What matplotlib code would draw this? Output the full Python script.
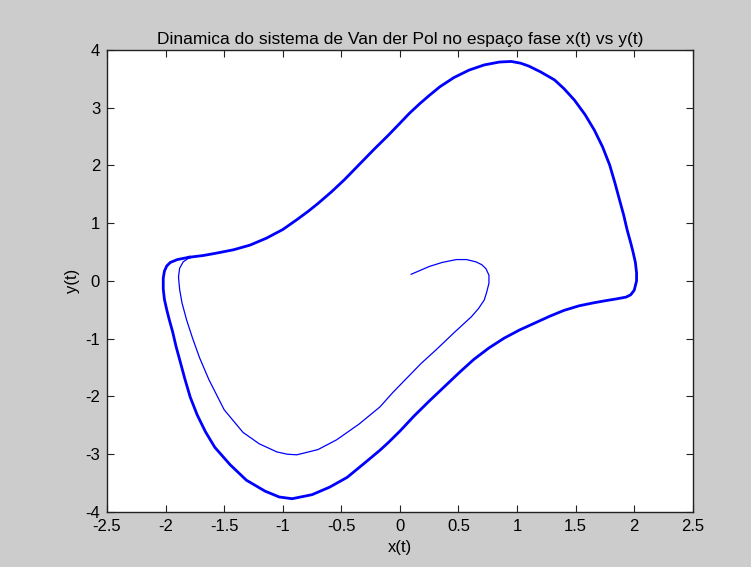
import matplotlib
matplotlib.use("Agg")
import matplotlib.pyplot as plt

# limit cycle, traced clockwise from where the transient joins it
cycle_x = [-1.80, -1.68, -1.57, -1.42, -1.28, -1.14, -1.00, -0.88, -0.78, -0.70,
           -0.58, -0.47, -0.35, -0.22, -0.10, 0.00, 0.08, 0.17, 0.25, 0.34,
           0.46, 0.59, 0.72, 0.85, 0.95, 1.03, 1.10, 1.20, 1.32, 1.40,
           1.49, 1.58, 1.66, 1.73, 1.79, 1.835, 1.875, 1.91, 1.94, 1.97,
           1.99, 2.01, 2.02, 2.02, 2.00, 1.97, 1.93, 1.85, 1.76, 1.65,
           1.53, 1.40, 1.28, 1.15, 1.02, 0.89, 0.76, 0.63, 0.51, 0.38,
           0.25, 0.12, 0.00, -0.10, -0.17, -0.30, -0.45, -0.60, -0.75, -0.92,
           -1.03, -1.15, -1.31, -1.45, -1.58, -1.66, -1.73, -1.79, -1.835, -1.875,
           -1.91, -1.94, -1.97, -1.99, -2.01, -2.02, -2.02, -2.01, -1.99, -1.96,
           -1.90, -1.80]
cycle_y = [0.41, 0.44, 0.48, 0.54, 0.62, 0.74, 0.89, 1.06, 1.21, 1.34,
           1.55, 1.76, 2.01, 2.28, 2.52, 2.73, 2.90, 3.07, 3.21, 3.36,
           3.52, 3.65, 3.74, 3.79, 3.80, 3.77, 3.72, 3.62, 3.48, 3.33,
           3.13, 2.88, 2.61, 2.32, 2.01, 1.70, 1.40, 1.14, 0.88, 0.66,
           0.50, 0.32, 0.14, 0.00, -0.16, -0.24, -0.28, -0.31, -0.34, -0.38,
           -0.43, -0.51, -0.61, -0.73, -0.85, -0.99, -1.16, -1.36, -1.58, -1.83,
           -2.08, -2.34, -2.60, -2.80, -2.93, -3.15, -3.40, -3.57, -3.70, -3.77,
           -3.74, -3.64, -3.45, -3.18, -2.88, -2.61, -2.32, -2.01, -1.70, -1.40,
           -1.14, -0.88, -0.66, -0.50, -0.32, -0.14, 0.05, 0.17, 0.26, 0.32,
           0.37, 0.41]

# transient from the initial condition (0.1, 0.1) out to the cycle
trans_x = [0.096, 0.17, 0.25, 0.36, 0.48, 0.57, 0.65, 0.70, 0.735, 0.76,
           0.76, 0.74, 0.72, 0.67, 0.61, 0.46, 0.31, 0.18, 0.06, -0.06,
           -0.17, -0.35, -0.54, -0.70, -0.88, -0.96, -1.05, -1.20, -1.34, -1.50,
           -1.63, -1.71, -1.77, -1.82, -1.86, -1.88, -1.89, -1.88, -1.85, -1.80]
trans_y = [0.116, 0.18, 0.25, 0.32, 0.37, 0.37, 0.33, 0.28, 0.21, 0.10,
           -0.04, -0.20, -0.33, -0.48, -0.62, -0.90, -1.19, -1.43, -1.68, -1.93,
           -2.18, -2.48, -2.75, -2.92, -3.01, -3.00, -2.96, -2.82, -2.62, -2.23,
           -1.71, -1.33, -0.99, -0.68, -0.38, -0.15, 0.07, 0.22, 0.33, 0.40]

xticks = [-2.5, -2, -1.5, -1, -0.5, 0, 0.5, 1, 1.5, 2, 2.5]
yticks = [-4, -3, -2, -1, 0, 1, 2, 3, 4]

plt.rcParams['font.family'] = ['Liberation Sans', 'DejaVu Sans']

fig = plt.figure(figsize=(7.51, 5.67), dpi=100, facecolor='#cccccc')
ax = fig.add_axes([0.1425, 0.097, 0.780, 0.815])
ax.set_facecolor('white')

ax.plot(trans_x, trans_y, color='#0000ff', lw=0.9, solid_joinstyle='round')
ax.plot(cycle_x, cycle_y, color='#0000ff', lw=2.0, solid_joinstyle='round')

ax.set_xlim(-2.5, 2.5)
ax.set_ylim(-4, 4)
ax.set_xticks(xticks)
ax.set_yticks(yticks)
ax.set_xticklabels([f"{t:g}" for t in xticks])
ax.set_yticklabels([f"{t:g}" for t in yticks])
ax.tick_params(direction='in', length=5, width=0.8, top=True, right=True,
               labelsize=12, pad=5, colors='#222222', labelcolor='black')
for s in ax.spines.values():
    s.set_color('#222222')
    s.set_linewidth(1.0)

ax.set_title("Dinamica do sistema de Van der Pol no espaço fase x(t) vs y(t)",
             fontsize=12.5, pad=4)
ax.set_xlabel("x(t)", fontsize=12, labelpad=4)
ax.set_ylabel("y(t)", fontsize=12, labelpad=4)

fig.savefig("out.png", dpi=100, facecolor=fig.get_facecolor())
